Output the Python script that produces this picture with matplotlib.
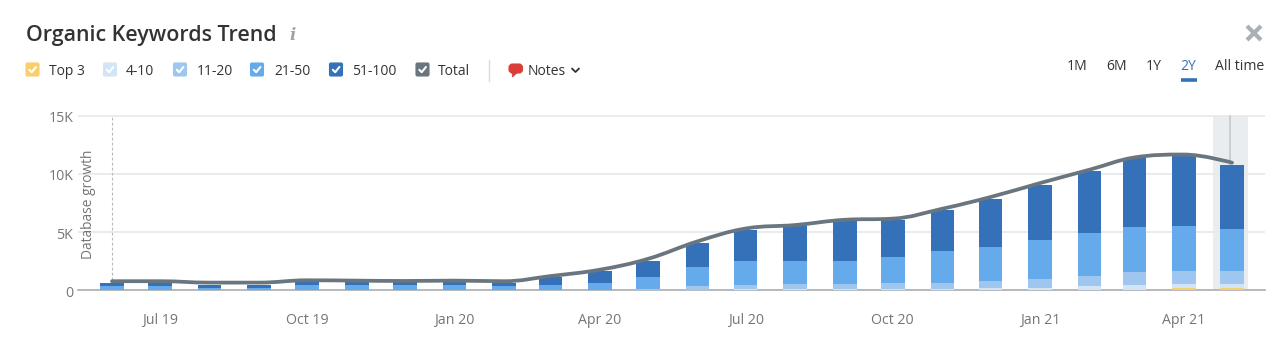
import datetime as dt
import matplotlib
matplotlib.use("Agg")
import matplotlib.pyplot as plt
import matplotlib.dates as mdates
from matplotlib.patches import FancyBboxPatch, PathPatch, Polygon
from matplotlib.path import Path
from matplotlib.transforms import ScaledTranslation
import numpy as np

# ---------- data ----------
months = ["2019-06", "2019-07", "2019-08", "2019-09", "2019-10", "2019-11", "2019-12", "2020-01",
          "2020-02", "2020-03", "2020-04", "2020-05", "2020-06", "2020-07", "2020-08", "2020-09",
          "2020-10", "2020-11", "2020-12", "2021-01", "2021-02", "2021-03", "2021-04", "2021-05"]
top3 = [0, 0, 0, 0, 0, 0, 0, 0, 0, 0, 0, 0, 0, 0, 0, 0, 0, 0, 0, 0, 0, 0, 170, 170]
pos_4_10 = [5, 5, 5, 5, 5, 5, 5, 5, 5, 10, 15, 30, 60, 80, 90, 100, 140, 140, 200, 230, 340, 460, 370, 370]
pos_11_20 = [15, 15, 10, 10, 15, 15, 15, 15, 15, 20, 40, 85, 280, 350, 425, 415, 490, 490, 600, 740, 860, 1080, 1090, 1090]
pos_21_50 = [320, 320, 215, 215, 415, 415, 415, 415, 330, 410, 590, 1000, 1690, 2115, 2030, 2030, 2230, 2745, 2950, 3380, 3750, 3920, 3920, 3600]
pos_51_100 = [290, 290, 200, 200, 320, 290, 290, 290, 290, 685, 1000, 1430, 2000, 2635, 3035, 3405, 3146, 3489, 4115, 4690, 5320, 5890, 5950, 5520]
total = [780, 780, 660, 660, 860, 830, 800, 830, 780, 1220, 1770, 2700, 4200, 5300, 5600, 6050, 6150, 7000, 8000, 9200, 10350, 11400, 11650, 10950]
y_ticks = [0, 5000, 10000, 15000]
y_tick_labels = ["0", "5K", "10K", "15K"]
x_tick_months = ["2019-07", "2019-10", "2020-01", "2020-04", "2020-07", "2020-10", "2021-01", "2021-04"]
x_tick_labels = ["Jul 19", "Oct 19", "Jan 20", "Apr 20", "Jul 20", "Oct 20", "Jan 21", "Apr 21"]
legend_names = ["Top 3", "4-10", "11-20", "21-50", "51-100", "Total"]
ranges = ["1M", "6M", "1Y", "2Y", "All time"]

# ---------- style ----------
FONT = "Open Sans"
plt.rcParams["font.family"] = [FONT, "DejaVu Sans"]
C_TOP3, C_4, C_11, C_21, C_51, C_TOTAL = "#f8cf6a", "#d2e5f6", "#9ec6ee", "#65abeb", "#3471b9", "#69757f"
legend_colors = [C_TOP3, C_4, C_11, C_21, C_51, C_TOTAL]
TXT = "#333333"
TICK = "#757575"

W, H = 1280, 353
fig = plt.figure(figsize=(W / 100, H / 100), dpi=100, facecolor="white")


def todate(m):
    return mdates.date2num(dt.date(int(m[:4]), int(m[5:]), 15))


x = np.array([todate(m) for m in months])
PX_PER_DAY = 1.6
Y_MAX = 15200
AX_L, AX_R, AX_B = 78, 1265, 290.3
AX_T = AX_B - 174.8 * Y_MAX / 15000
ax = fig.add_axes([AX_L / W, 1 - AX_B / H, (AX_R - AX_L) / W, (AX_B - AX_T) / H])
ax.set_xlim(x[0] + (AX_L - 112) / PX_PER_DAY, x[0] + (AX_R - 112) / PX_PER_DAY)
ax.set_ylim(0, Y_MAX)
ax.patch.set_alpha(0)
for s in ("top", "right", "left"):
    ax.spines[s].set_visible(False)
ax.spines["bottom"].set_color("#a9afb5")
ax.spines["bottom"].set_linewidth(1.2)
ax.spines["bottom"].set_zorder(1.5)
ax.set_axisbelow(True)
ax.grid(axis="y", color="#e8e9ea", lw=1.3)
ax.xaxis_date()
ax.set_yticks(y_ticks, y_tick_labels)
ax.set_xticks([todate(m) for m in x_tick_months], x_tick_labels)
ax.tick_params(axis="both", length=0, labelsize=10.2, labelcolor=TICK)
ax.tick_params(axis="x", pad=16.2)
ax.tick_params(axis="y", pad=3.5)
shift = ScaledTranslation(0, -1.0 / 100, fig.dpi_scale_trans)
for lab in ax.get_yticklabels():
    lab.set_transform(lab.get_transform() + shift)

# hover band and marker
ax.axvspan(x[-1] - 11.7, x[-1] + 10.2, ymax=15000 / Y_MAX, color="#e9edef", lw=0, zorder=0.5)
ax.axvline(x[-1] - 1.2, ymax=15000 / Y_MAX, color="#c3c7ca", lw=1.1, zorder=0.6)
# database growth marker
ax.axvline(x[0], ymax=15000 / Y_MAX, color="#b5b9bd", lw=0.8, ls=(0, (2.5, 2)), zorder=0.6)
ax.text(x[0] - 14.6, 7420, "Database growth", rotation=90, ha="center", va="center",
        fontsize=9.9, color=TICK)

# stacked bars
bottom = np.zeros(len(x))
for vals, col in [(top3, C_TOP3), (pos_4_10, C_4), (pos_11_20, C_11), (pos_21_50, C_21), (pos_51_100, C_51)]:
    ax.bar(x, vals, width=14.7, bottom=bottom, color=col, lw=0, zorder=2)
    bottom += np.array(vals, dtype=float)

# smooth total line: Bezier segments whose nodes are the data points
xs, ys = x, np.array(total, dtype=float)
K = 1.5
verts = [(xs[0], ys[0])]
codes = [Path.MOVETO]
right_ctrl = (xs[0], ys[0])
for i in range(1, len(xs)):
    if i < len(xs) - 1:
        lx = (K * xs[i] + xs[i - 1]) / (K + 1)
        ly = (K * ys[i] + ys[i - 1]) / (K + 1)
        rx = (K * xs[i] + xs[i + 1]) / (K + 1)
        ry = (K * ys[i] + ys[i + 1]) / (K + 1)
        if rx != lx:
            corr = (ry - ly) * (rx - xs[i]) / (rx - lx) + ys[i] - ry
            ly += corr
            ry += corr
        if ly > max(ys[i - 1], ys[i]):
            ly = max(ys[i - 1], ys[i]); ry = 2 * ys[i] - ly
        elif ly < min(ys[i - 1], ys[i]):
            ly = min(ys[i - 1], ys[i]); ry = 2 * ys[i] - ly
        if ry > max(ys[i + 1], ys[i]):
            ry = max(ys[i + 1], ys[i]); ly = 2 * ys[i] - ry
        elif ry < min(ys[i + 1], ys[i]):
            ry = min(ys[i + 1], ys[i]); ly = 2 * ys[i] - ry
    else:
        lx, ly, rx, ry = xs[i], ys[i], xs[i], ys[i]
    verts += [right_ctrl, (lx, ly), (xs[i], ys[i])]
    codes += [Path.CURVE4, Path.CURVE4, Path.CURVE4]
    right_ctrl = (rx, ry)
ax.add_patch(PathPatch(Path(verts, codes), fill=False, edgecolor=C_TOTAL, lw=2.7, zorder=3,
                       capstyle="round", joinstyle="round"))

# ---------- page furniture in pixel coordinates ----------
ui = fig.add_axes([0, 0, 1, 1], zorder=5)
ui.set_xlim(0, W)
ui.set_ylim(H, 0)
ui.axis("off")
ui.patch.set_alpha(0)

ui.text(26, 35.3, "Organic Keywords Trend", fontsize=15.4, fontweight="semibold", color=TXT, va="center", ha="left")
ui.text(292.5, 35, "i", fontsize=12, style="italic", fontweight="bold", family="DejaVu Serif",
        color="#a0a4a8", va="center", ha="center")

box_x = [25.5, 103, 173, 250, 329, 415.5]
text_x = [49, 126, 197, 274, 352, 438]
for bx, tx, name, col in zip(box_x, text_x, legend_names, legend_colors):
    ui.add_patch(FancyBboxPatch((bx + 0.5, 63), 13, 13, boxstyle="round,pad=0,rounding_size=1.5",
                                mutation_aspect=1, fc=col, ec=col, lw=0.8))
    ui.plot([bx + 3.8, bx + 6.2, bx + 10.4], [69.8, 72.2, 67], color="white", lw=1.5,
            solid_capstyle="round", solid_joinstyle="round")
    ui.text(tx, 71.3, name, fontsize=10, color=TXT, va="center", ha="left")

ui.plot([489, 489], [60, 81], color="#d9dbdd", lw=1)
# notes bubble
ui.add_patch(FancyBboxPatch((509.5, 64.5), 12.5, 8, boxstyle="round,pad=0,rounding_size=3",
                            fc="#d93f38", ec="#d93f38", lw=1.5))
ui.add_patch(Polygon([(512, 72), (518, 72), (512.5, 77)], closed=True, fc="#d93f38", ec="#d93f38", lw=0.5))
ui.text(528, 71.3, "Notes", fontsize=10, color=TXT, va="center", ha="left")
ui.plot([572, 575.5, 579], [68.5, 72, 68.5], color=TXT, lw=1.3, solid_capstyle="round")

range_x = [1077.5, 1116.5, 1154, 1188.5, 1239.5]
for rx, name in zip(range_x, ranges):
    ui.text(rx, 66.6, name, fontsize=10.1, color="#3471b9" if name == "2Y" else TXT, va="center", ha="center")
ui.plot([1181, 1197], [80, 80], color="#3471b9", lw=2.6, solid_capstyle="butt")
ui.plot([1247, 1261], [26, 40], color="#a9b0b6", lw=3, solid_capstyle="butt")
ui.plot([1247, 1261], [40, 26], color="#a9b0b6", lw=3, solid_capstyle="butt")

fig.savefig("out.png", dpi=100, facecolor="white")
